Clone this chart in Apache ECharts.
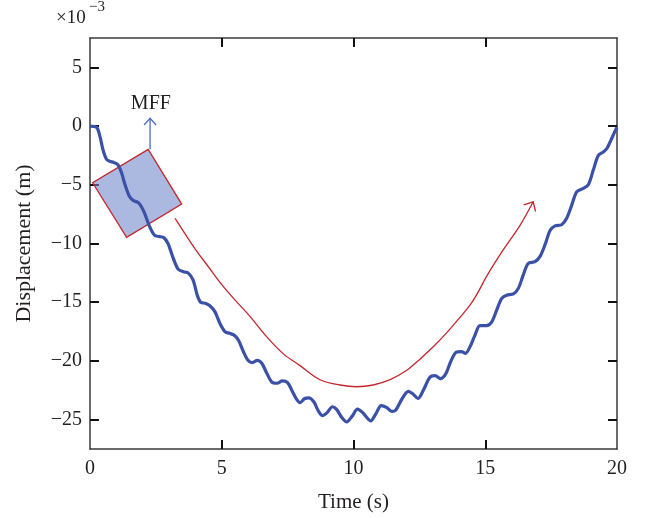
<!DOCTYPE html>
<html>
<head>
<meta charset="utf-8">
<script src="https://cdn.jsdelivr.net/npm/echarts@6/dist/echarts.min.js"></script>
<style>html,body{margin:0;padding:0;background:#fff}#c{width:650px;height:518px}</style>
</head>
<body>
<div id="c"></div>
<script>
// ---- data (values in ×10^-3 m) ----
const blueT = [0.00,0.25,0.38,0.49,0.62,0.75,0.90,1.06,1.20,1.33,1.50,1.65,1.85,2.05,2.25,2.45,2.62,2.80,2.96,3.15,3.35,3.55,3.72,3.91,4.07,4.20,4.40,4.55,4.74,4.93,5.12,5.30,5.50,5.65,5.82,5.98,6.14,6.35,6.52,6.70,6.90,7.10,7.30,7.50,7.68,7.85,7.97,8.15,8.30,8.50,8.65,8.82,9.00,9.20,9.35,9.55,9.74,9.95,10.15,10.35,10.50,10.65,10.85,11.05,11.25,11.45,11.60,11.85,12.08,12.25,12.45,12.65,12.90,13.10,13.30,13.50,13.70,13.90,14.10,14.25,14.42,14.61,14.80,15.05,15.24,15.43,15.62,15.81,16.07,16.26,16.44,16.63,16.89,17.08,17.27,17.46,17.65,17.90,18.09,18.28,18.47,18.72,18.91,19.10,19.29,19.48,19.62,19.77,19.89,20.00];
const blueV = [0.0,-0.1,-0.9,-2.0,-2.8,-3.0,-3.1,-3.3,-4.0,-5.0,-6.0,-6.35,-6.55,-7.3,-8.5,-9.3,-9.4,-9.5,-10.0,-11.2,-12.2,-12.4,-12.5,-13.1,-14.4,-15.0,-15.1,-15.3,-15.8,-16.8,-17.5,-17.65,-17.85,-18.3,-19.2,-19.9,-20.15,-19.95,-20.2,-21.0,-21.8,-21.9,-21.7,-21.85,-22.6,-23.3,-23.55,-23.2,-23.15,-23.5,-24.2,-24.65,-24.4,-23.9,-24.1,-24.8,-25.2,-24.7,-24.1,-24.4,-24.8,-25.1,-24.5,-23.8,-23.95,-24.3,-24.2,-23.2,-22.6,-22.8,-23.2,-22.5,-21.4,-21.25,-21.5,-21.1,-20.0,-19.25,-19.2,-19.35,-18.8,-17.8,-17.0,-17.0,-16.7,-15.7,-14.7,-14.4,-14.3,-13.8,-12.7,-11.7,-11.55,-11.1,-10.1,-8.9,-8.5,-8.4,-7.85,-6.75,-5.6,-5.3,-5.0,-3.75,-2.5,-2.2,-1.9,-1.2,-0.6,-0.1];

const redT = [3.23,4.00,4.50,5.00,5.50,6.07,6.71,7.34,7.97,8.73,9.49,10.12,10.75,11.39,12.02,12.52,13.16,13.79,14.42,14.74,15.05,15.68,16.32,16.82];
const redV = [-7.86,-10.5,-12.0,-13.5,-14.8,-16.2,-17.95,-19.4,-20.4,-21.6,-22.05,-22.2,-22.05,-21.6,-20.8,-19.85,-18.5,-16.95,-15.25,-14.1,-12.8,-10.55,-8.45,-6.45];

const rectT = [2.21,0.10,1.39,3.48];
const rectV = [-1.98,-4.83,-9.48,-6.64];

const mffT = [2.28,2.28];
const mffV = [-1.98,0.66];
const mffLabel = {t:2.31, v:1.87, text:'MFF'};

const xTicks = [5,10,15];
const xLabels = [0,5,10,15,20];
const yTicks = [-25,-20,-15,-10,-5,0,5];

const FONT = "'Liberation Serif','Times New Roman',serif";
const BLUE = '#3b51a7';
const RED = '#c4262e';

function arrowHead(api, tip, prev, len, halfDeg) {
  const P = api.coord(tip), Q = api.coord(prev);
  let dx = Q[0]-P[0], dy = Q[1]-P[1];
  const n = Math.hypot(dx,dy); dx/=n; dy/=n;
  const a = halfDeg*Math.PI/180;
  const w = s => [P[0] + len*(dx*Math.cos(s*a) - dy*Math.sin(s*a)), P[1] + len*(dx*Math.sin(s*a) + dy*Math.cos(s*a))];
  return {type:'polyline', shape:{points:[w(1),P,w(-1)]}, style:{fill:null}};
}

const chart = echarts.init(document.getElementById('c'), null, {renderer:'canvas'});
const frameLine = {show:true, onZero:false, lineStyle:{color:'#3a3a3a', width:1.5}};
const tickStyle = {color:'#111', width:2};
chart.setOption({
  animation:false,
  grid:{left:90, right:33, top:38, bottom:69, containLabel:false},
  xAxis:[
    {
      type:'value', min:0, max:20, position:'bottom',
      axisLine:frameLine, splitLine:{show:false},
      name:'Time (s)', nameLocation:'middle', nameGap:43,
      nameTextStyle:{fontFamily:FONT, fontSize:21, color:'#231f20'},
      axisTick:{show:true, inside:true, length:9, customValues:xTicks, lineStyle:tickStyle},
      axisLabel:{show:true, customValues:xLabels, margin:10, fontFamily:FONT, fontSize:20, color:'#231f20'}
    },
    {
      type:'value', min:0, max:20, position:'top',
      axisLine:frameLine, splitLine:{show:false},
      axisTick:{show:true, inside:true, length:9, customValues:xTicks, lineStyle:tickStyle},
      axisLabel:{show:false}
    }
  ],
  yAxis:[
    {
      type:'value', min:-27.5, max:7.5, position:'left',
      axisLine:frameLine, splitLine:{show:false},
      name:'Displacement (m)', nameLocation:'middle', nameGap:55,
      nameTextStyle:{fontFamily:FONT, fontSize:22, color:'#231f20'},
      axisTick:{show:true, inside:true, length:9, customValues:yTicks, lineStyle:tickStyle},
      axisLabel:{show:true, customValues:yTicks, margin:8, fontFamily:FONT, fontSize:20, color:'#231f20',
        formatter: v => String(v).replace('-', '\u2212')}
    },
    {
      type:'value', min:-27.5, max:7.5, position:'right',
      axisLine:frameLine, splitLine:{show:false},
      axisTick:{show:true, inside:true, length:9, customValues:yTicks, lineStyle:tickStyle},
      axisLabel:{show:false}
    }
  ],
  graphic:[
    {type:'text', left:56, top:9, style:{text:'\u00d710', font:"19px 'Liberation Serif', serif", fill:'#231f20'}},
    {type:'text', left:89, top:0, style:{text:'\u22123', font:"15px 'Liberation Serif', serif", fill:'#231f20'}}
  ],
  series:[
    {
      type:'custom', coordinateSystem:'cartesian2d', xAxisIndex:0, yAxisIndex:0, z:1, silent:true, clip:false,
      data:[[0,0]],
      renderItem:(params, api) => ({
        type:'polygon',
        shape:{points: rectT.map((t,i) => api.coord([t, rectV[i]]))},
        style:{fill:'rgba(110,132,200,0.58)', stroke:RED, lineWidth:1.3}
      })
    },
    {
      type:'line', name:'Displacement', xAxisIndex:0, yAxisIndex:0, z:3,
      data: blueT.map((t,i) => [t, blueV[i]]),
      showSymbol:false, symbol:'none', smooth:0.3,
      lineStyle:{color:BLUE, width:3.2}
    },
    {
      type:'line', name:'Trend', xAxisIndex:0, yAxisIndex:0, z:2,
      data: redT.map((t,i) => [t, redV[i]]),
      showSymbol:false, symbol:'none', smooth:0.35,
      lineStyle:{color:RED, width:1.3}
    },
    {
      type:'custom', coordinateSystem:'cartesian2d', xAxisIndex:0, yAxisIndex:0, z:4, silent:true, clip:false,
      data:[[0,0]],
      renderItem:(params, api) => {
        const n = redT.length;
        const redHead = arrowHead(api, [redT[n-1], redV[n-1]], [redT[n-2], redV[n-2]], 10, 43);
        redHead.style = {fill:null, stroke:RED, lineWidth:1.3};
        const mffHead = arrowHead(api, [mffT[1], mffV[1]], [mffT[0], mffV[0]], 9, 42);
        mffHead.style = {fill:null, stroke:'#4d6cc2', lineWidth:1.3};
        const p0 = api.coord([mffT[0], mffV[0]]), p1 = api.coord([mffT[1], mffV[1]]);
        const lp = api.coord([mffLabel.t, mffLabel.v]);
        return {type:'group', children:[
          redHead,
          {type:'line', shape:{x1:p0[0], y1:p0[1], x2:p1[0], y2:p1[1]}, style:{stroke:'#4d6cc2', lineWidth:1.3}},
          mffHead,
          {type:'text', x:lp[0], y:lp[1], style:{text:mffLabel.text, font:"20px 'Liberation Serif', serif", fill:'#231f20', align:'center', verticalAlign:'middle'}}
        ]};
      }
    }
  ]
});
</script>
</body>
</html>
